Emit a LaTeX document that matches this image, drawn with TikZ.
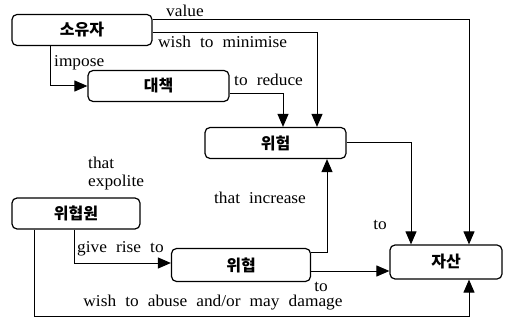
\documentclass[tikz,border=0pt]{standalone}
\usepackage{fontspec}
\setmainfont{Liberation Serif}[FakeStretch=1.05,WordSpace=2.1]
\newfontfamily\kr{Noto Sans CJK KR}
\usetikzlibrary{arrows.meta}

\tikzset{
  box/.style={draw, line width=1.2pt, rounded corners=5pt, minimum width=140pt,
    minimum height=31pt, inner sep=0pt, font=\kr\bfseries\fontsize{16}{18}\selectfont},
  arr/.style={line width=1pt, -{Triangle[length=13pt,width=11pt]}},
  lbl/.style={inner sep=0pt, font=\fontsize{16.5}{18}\selectfont}
}

\begin{document}
\begin{tikzpicture}[x=1pt,y=-1pt]
  \useasboundingbox (0,0) rectangle (505,328);

  \node[box] (owner) at (82,30) {소유자};
  \node[box, minimum width=141pt] (measure) at (158.5,86) {대책};
  \node[box, minimum width=141pt] (risk) at (275.5,143) {위험};
  \node[box, minimum width=128pt] (source) at (76,213.5) {위협원};
  \node[box, minimum width=139pt, minimum height=33pt] (threat) at (241,265) {위협};
  \node[box, minimum width=112pt, minimum height=34pt] (asset) at (446,262) {자산};
  \coordinate (bottom) at (0,316);

  \draw[arr] ([yshift=10pt]owner.east) -| ([xshift=23pt]asset.north);
  \draw[arr] ([yshift=-3pt]owner.east) -| ([xshift=41.5pt]risk.north);
  \draw[arr] ([xshift=-32pt]owner.south) |- (measure.west);
  \draw[arr] ([yshift=-8pt]measure.east) -| ([xshift=7.5pt]risk.north);
  \draw[arr] ([yshift=12pt]threat.east) -| ([xshift=51.5pt]risk.south);
  \draw[arr] (risk.east) -| ([xshift=-35pt]asset.north);
  \draw[arr] ([xshift=-2pt]source.south) |- ([yshift=2pt]threat.west);
  \draw[arr] ([yshift=-6pt]threat.east) -- ([yshift=-6pt]threat.east -| asset.west);
  \draw[arr] ([xshift=-42pt]source.south) -- ([xshift=-42pt]source.south |- bottom)
    -| ([xshift=23pt]asset.south);

  % labels
  \node[lbl, anchor=west] (l-value) at (166,11) {value};
  \node[lbl, anchor=west] (l-minimise) at (158,42) {wish to minimise};
  \node[lbl, anchor=west] (l-impose) at (54,63) {impose};
  \node[lbl, anchor=west] (l-reduce) at (234,80) {to reduce};
  \node[lbl] (l-increase) at (260,198) {that increase};
  \node[lbl] (l-to1) at (380,225) {to};
  \node[lbl, anchor=west, align=left] (l-exploit) at (88,174) {that\\expolite};
  \node[lbl, anchor=west] (l-rise) at (77,249) {give rise to};
  \node[lbl] (l-to2) at (321,287) {to};
  \node[lbl] (l-abuse) at (213,303) {wish to abuse and/or may damage};
\end{tikzpicture}
\end{document}
